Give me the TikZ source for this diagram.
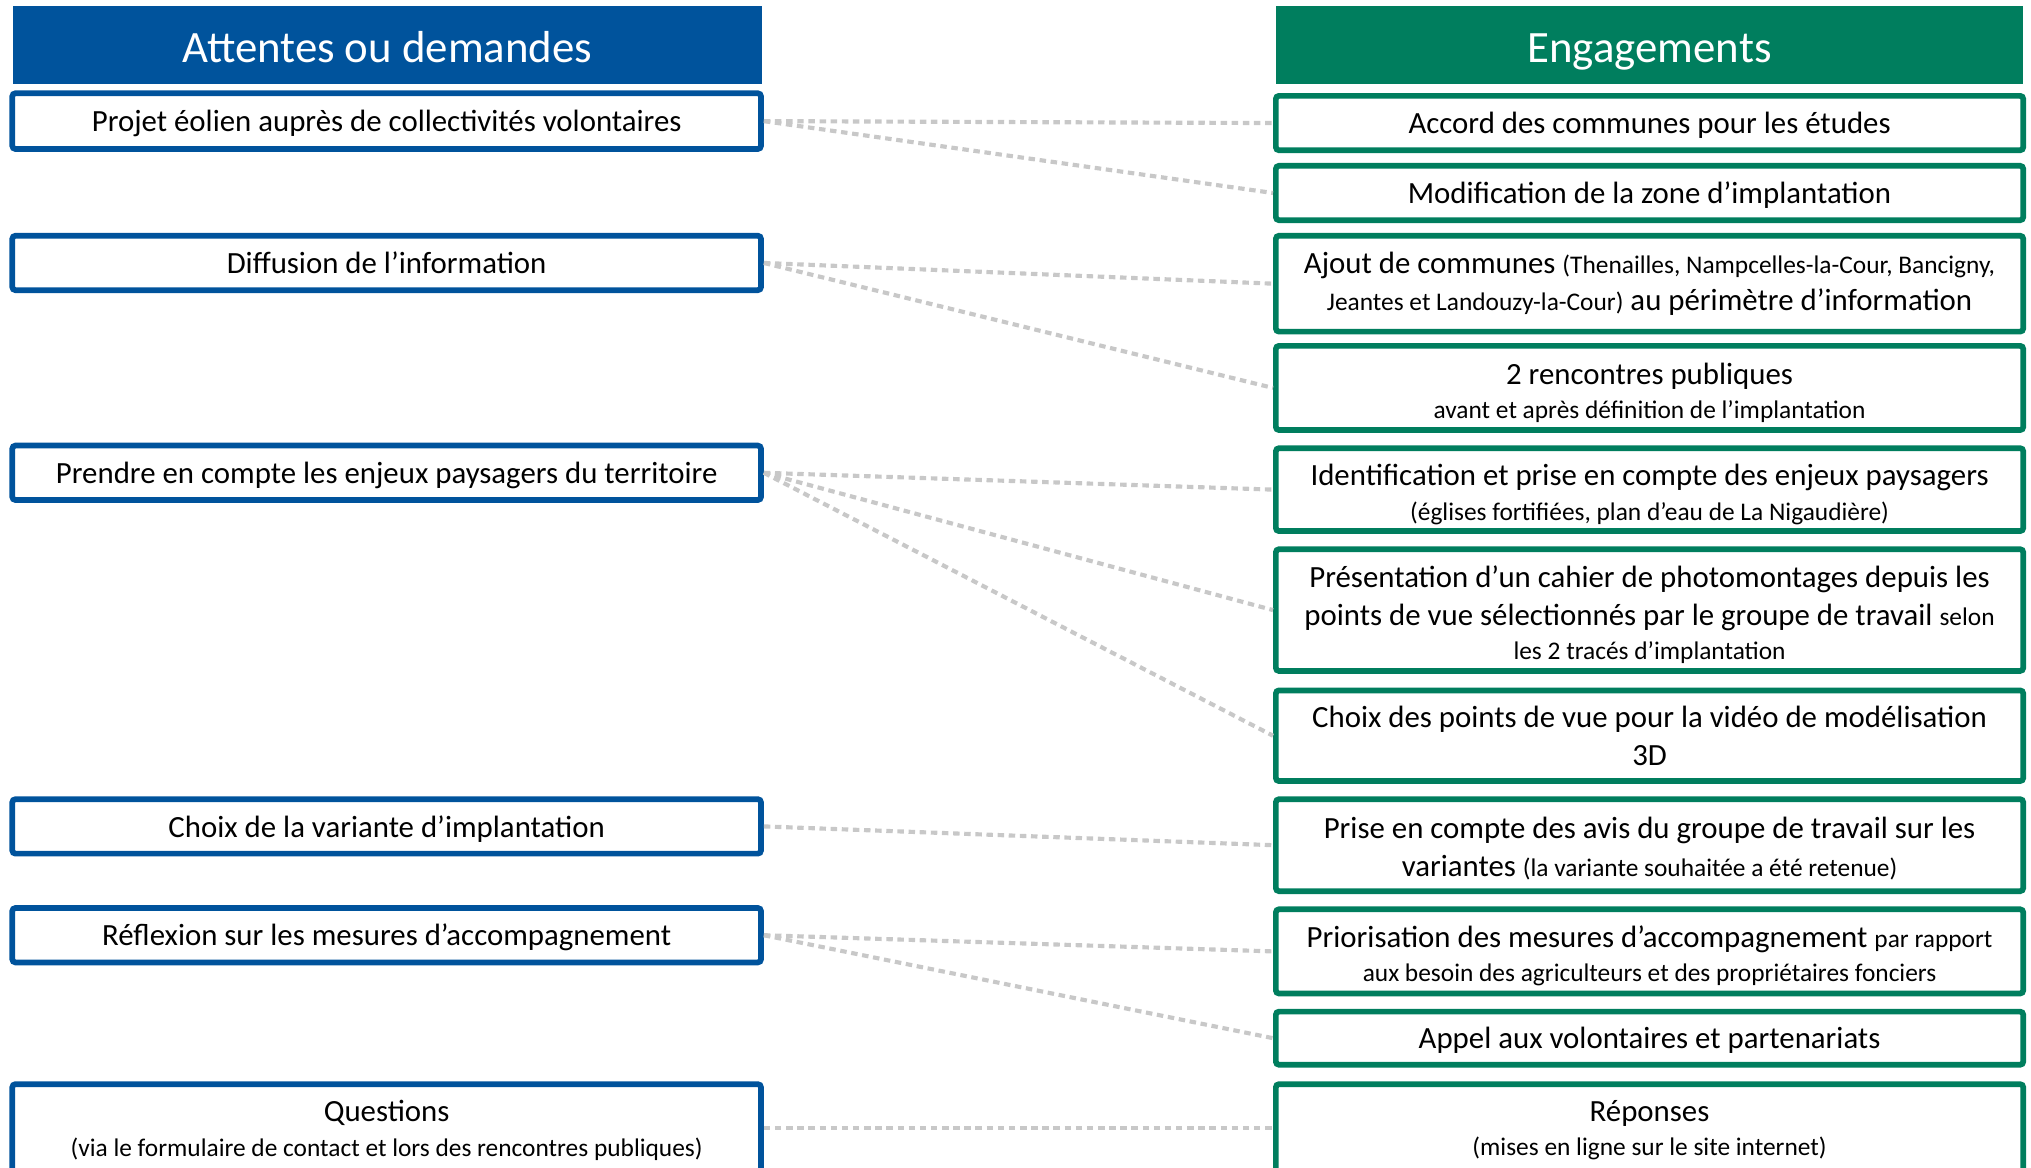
\documentclass[tikz,border=0pt]{standalone}
\usepackage{fontspec}
\setmainfont{Carlito}
\definecolor{hblue}{RGB}{0,83,156}
\definecolor{hgreen}{RGB}{0,126,94}
\definecolor{lgray}{RGB}{200,200,200}
\newcommand{\fsB}{\fontsize{11.9}{14.5}\selectfont}
\newcommand{\fsS}{\fontsize{9.8}{14.5}\selectfont}
\newcommand{\tup}[1]{\rule{0pt}{#1}}
\begin{document}
\begin{tikzpicture}[x=0.5pt,y=-0.5pt,
  hdr/.style={rectangle, inner sep=0pt, minimum width=289pt, minimum height=30pt,
    text=white, font=\fontsize{17.3}{20}\selectfont, text height=13pt, text depth=0pt},
  lbox/.style={draw=hblue, line width=2.2pt, rounded corners=1.2pt, fill=white, rectangle, inner sep=0pt,
    minimum width=289pt, align=center, font=\fsB},
  rbox/.style={draw=hgreen, line width=2.2pt, rounded corners=1.2pt, fill=white, rectangle, inner sep=0pt,
    minimum width=288.5pt, align=center, font=\fsB},
  oneline/.style={text height=11.2pt, text depth=3pt},
  link/.style={draw=lgray, line width=1.6pt, dash pattern=on 2.5pt off 1.8pt}]
\useasboundingbox (0,0) rectangle (1568,901);

% headers
\node[hdr, fill=hblue] (hl) at (299,35) {Attentes ou demandes};
\node[hdr, fill=hgreen, minimum width=288.5pt] (hr) at (1273.5,35) {Engagements};

% left boxes
\node[lbox, oneline, minimum height=21.5pt] (l1) at (298.5,93.5) {Projet éolien auprès de collectivités volontaires};
\node[lbox, oneline, minimum height=21pt] (l2) at (298.5,203) {Diffusion de l’information};
\node[lbox, oneline, minimum height=21pt] (l3) at (298.5,365) {Prendre en compte les enjeux paysagers du territoire};
\node[lbox, oneline, minimum height=21pt] (l4) at (298.5,638) {Choix de la variante d’implantation};
\node[lbox, oneline, minimum height=21pt] (l5) at (298.5,722) {Réflexion sur les mesures d’accompagnement};
\node[lbox, minimum height=34pt] (l6) at (298.5,871) {\tup{10pt}Questions\\[-1.25pt]{\fsS (via le formulaire de contact et lors des rencontres publiques)}};

% right boxes
\node[rbox, oneline, minimum height=21pt] (r1) at (1273.5,95) {Accord des communes pour les études};
\node[rbox, oneline, minimum height=21pt] (r2) at (1273.5,149) {Modification de la zone d’implantation};
\node[rbox, minimum height=37pt] (r3) at (1273.5,219) {Ajout de communes {\fsS (Thenailles, Nampcelles-la-Cour, Bancigny,}\\[-0.5pt]{\fsS Jeantes et Landouzy-la-Cour)} au périmètre d’information};
\node[rbox, minimum height=32.5pt] (r4) at (1273.5,299.5) {\tup{12pt}2 rencontres publiques\\[-1.25pt]{\fsS avant et après définition de l’implantation}};
\node[rbox, minimum height=32pt] (r5) at (1273.5,378) {\tup{12pt}Identification et prise en compte des enjeux paysagers\\[-1.25pt]{\fsS (églises fortifiées, plan d’eau de La Nigaudière)}};
\node[rbox, minimum height=47pt] (r6) at (1273.5,471) {\tup{12pt}Présentation d’un cahier de photomontages depuis les\\points de vue sélectionnés par le groupe de travail {\fsS selon}\\[-1.5pt]{\fsS les 2 tracés d’implantation}};
\node[rbox, minimum height=35pt] (r7) at (1273.5,568) {Choix des points de vue pour la vidéo de modélisation\\3D};
\node[rbox, minimum height=35.5pt] (r8) at (1273.5,652.5) {\tup{11pt}Prise en compte des avis du groupe de travail sur les\\variantes {\fsS (la variante souhaitée a été retenue)}};
\node[rbox, minimum height=32.5pt] (r9) at (1273.5,734.5) {\tup{11.6pt}Priorisation des mesures d’accompagnement {\fsS par rapport}\\[-1.5pt]{\fsS aux besoin des agriculteurs et des propriétaires fonciers}};
\node[rbox, oneline, minimum height=20.5pt] (r10) at (1273.5,801.5) {Appel aux volontaires et partenariats};
\node[rbox, minimum height=34pt] (r11) at (1273.5,871) {\tup{9.5pt}Réponses\\[-1.25pt]{\fsS (mises en ligne sur le site internet)}};

% connectors
\draw[link] (l1.east) -- (r1.west);
\draw[link] (l1.east) -- (r2.west);
\draw[link] (l2.east) -- (r3.west);
\draw[link] (l2.east) -- (r4.west);
\draw[link] (l3.east) -- (r5.west);
\draw[link] (l3.east) -- (r6.west);
\draw[link] (l3.east) -- (r7.west);
\draw[link] (l4.east) -- (r8.west);
\draw[link] (l5.east) -- (r9.west);
\draw[link] (l5.east) -- (r10.west);
\draw[link] (l6.east) -- (r11.west);
\end{tikzpicture}
\end{document}
